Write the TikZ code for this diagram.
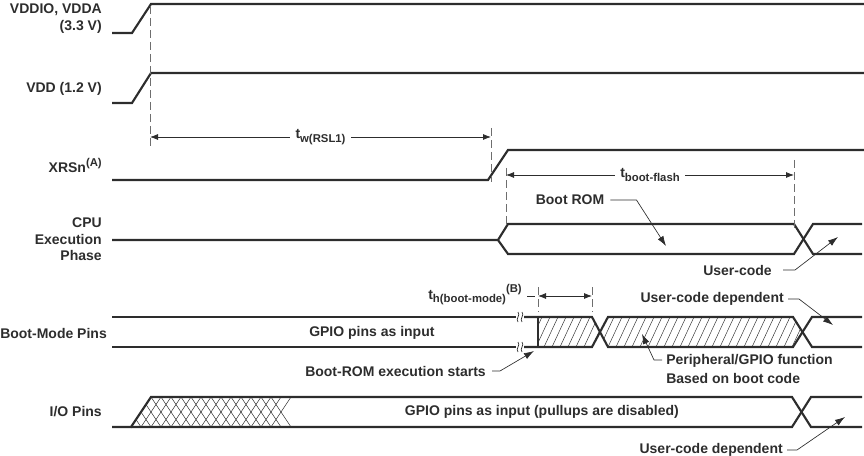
\documentclass[tikz,border=0pt]{standalone}
\usepackage{fontspec}
\setmainfont{Liberation Sans}
\usetikzlibrary{arrows.meta}

\definecolor{sigcol}{RGB}{45,45,45}
\definecolor{extcol}{RGB}{110,110,110}
\newcommand\tsub[1]{\raisebox{-0.45ex}{\fontsize{8.5}{9}\selectfont #1}}
\newcommand\tsup[1]{\raisebox{0.9ex}{\fontsize{8.5}{9}\selectfont #1}}

\begin{document}
\begin{tikzpicture}[x=0.75pt,y=0.75pt,yscale=-1,xscale=1,
	wave/.style={draw=sigcol, line width=1.6pt},
	hatchline/.style={draw=sigcol, line width=0.35pt},
	extline/.style={draw=extcol, line width=0.6pt, dash pattern=on 6pt off 3pt},
	dimline/.style={draw=sigcol, line width=0.6pt, {Latex[length=6pt,width=4.5pt]}-{Latex[length=6pt,width=4.5pt]}},
	leader/.style={draw=sigcol, line width=0.5pt, -{Latex[length=7.5pt,width=5pt]}},
	siglabel/.style={anchor=east, align=right, inner sep=0.75pt},
	every node/.append style={text=sigcol, font=\bfseries\fontsize{10.5}{12.5}\selectfont}]
	\useasboundingbox (0,0) rectangle (864,456);
	
	%Signal Lines: supplies and reset
	\draw [wave] (112,33) -- (132,33) -- (151,4) -- (864,4) ;
	\draw [wave] (112,103) -- (132,103) -- (151,73) -- (864,73) ;
	\draw [wave] (112,180) -- (488,180) -- (508,150) -- (864,150) ;
	%Signal Lines: CPU execution phase
	\draw [wave] (112,240) -- (498,240) -- (508,224) -- (794,224) -- (813,254) -- (862,254) ;
	\draw [wave] (498,240) -- (508,254) -- (794,254) -- (813,224) -- (862,224) ;
	
	%Shape: hatched boot-mode window
	\begin{scope}
		\clip (538,317) -- (592,317) -- (600,332) -- (592,347) -- (538,347) -- cycle
		      (600,332) -- (608,317) -- (793,317) -- (802.5,332) -- (793,347) -- (608,347) -- cycle ;
		\foreach \x in {520,528,...,808}
			\draw [hatchline] (\x,347) -- (\x+14,317) ;
	\end{scope}
	%Signal Lines: boot-mode pins
	\draw [wave] (112,317) -- (516,317) ;
	\draw [wave] (112,347) -- (516,347) ;
	\draw [wave] (524,317) -- (592,317) -- (608,347) -- (793,347) -- (812,317) -- (862,317) ;
	\draw [wave] (524,347) -- (592,347) -- (608,317) -- (793,317) -- (812,347) -- (862,347) ;
	\draw [wave] (538,317) -- (538,347) ;
	%Curve Lines: break marks
	\foreach \y in {317,347}
		\foreach \x in {518,522}
			\draw [hatchline,line width=0.5pt] (\x,\y+5) .. controls (\x-3,\y+2) and (\x+3,\y-2) .. (\x,\y-5) ;
	
	%Shape: cross-hatched I/O start
	\begin{scope}
		\clip (131,427) -- (151,397) -- (300,397) -- (300,427) -- cycle ;
		\foreach \x in {111,121,...,273} {
			\draw [hatchline] (\x,427) -- (\x+20,397) ;
			\draw [hatchline] (\x,397) -- (\x+20,427) ;
		}
	\end{scope}
	%Signal Lines: I/O pins
	\draw [wave] (112,427) -- (131,427) -- (151,397) -- (792,397) -- (811,427) -- (862,427) ;
	\draw [wave] (131,427) -- (792,427) -- (811,397) -- (862,397) ;
	
	%Dashed Lines
	\draw [extline] (150,6) -- (150,148) ;
	\draw [extline] (491,128) -- (491,182) ;
	\draw [extline] (506,168) -- (506,228) ;
	\draw [extline] (794,160) -- (794,228) ;
	\draw [extline] (538,287) -- (538,312) ;
	\draw [extline] (592,287) -- (592,312) ;
	
	%Dimension Lines
	\draw [dimline] (150,137) -- (491,137) node [midway, fill=white, inner xsep=4pt] (twrsl) {t\tsub{w(RSL1)}} ;
	\draw [dimline] (506,175) -- (794,175) node [midway, fill=white, inner xsep=4pt] (tboot) {t\tsub{boot-flash}} ;
	\draw [dimline] (538,296) -- (592,296) ;
	
	% Text Node
	\node [siglabel] (vddio) at (103,18.5) {VDDIO, VDDA\\(3.3 V)} ;
	\node [siglabel] (vdd) at (103,89) {VDD (1.2 V)} ;
	\node [siglabel, anchor=base east] (xrsn) at (103,173) {XRSn\tsup{(A)}} ;
	\node [siglabel] (cpu) at (103,239.5) {CPU\\Execution\\Phase} ;
	\node [siglabel, anchor=west, inner sep=0pt] (bootpins) at (0,333) {Boot-Mode Pins} ;
	\node [siglabel] (iopins) at (103,412) {I/O Pins} ;
	% Text Node
	\node [inner sep=0.75pt, anchor=west] (gpioin) at (308,333) {GPIO pins as input} ;
	\node [inner sep=0.75pt, anchor=east] (iogpio) at (680,412) {GPIO pins as input (pullups are disabled)} ;
	\node [inner sep=0.75pt] (bootrom) at (570,200) {Boot ROM} ;
	\node [inner sep=0.75pt, anchor=east] (usercode) at (773,270) {User-code} ;
	\node [inner sep=0.75pt, anchor=east] (thboot) at (523,295) {t\tsub{h(boot-mode)}\tsup{(B)}} ;
	\node [inner sep=0.75pt, anchor=east] (romstart) at (487,371) {Boot-ROM execution starts} ;
	\node [inner sep=0.75pt, anchor=east] (ucdep) at (785,299) {User-code dependent} ;
	\node [inner sep=0.75pt, anchor=west, align=left, font=\bfseries\fontsize{10.5}{14}\selectfont] (periph) at (665,369) {Peripheral/GPIO function\\Based on boot code} ;
	\node [inner sep=0.75pt, anchor=east] (ucdepio) at (784,450) {User-code dependent} ;
	
	%Leader Lines
	\coordinate (romtip) at (666,246) ;
	\coordinate (usertip) at (838,237) ;
	\coordinate (starttip) at (534,351) ;
	\coordinate (deptip) at (833,325) ;
	\coordinate (periphtip) at (642,334) ;
	\coordinate (iotip) at (845,417) ;
	\draw [leader] (bootrom.east) ++(5,0) -- ++(26,0) -- (romtip) ;
	\draw [leader] (usercode.east) ++(10,0) -- ++(12,0) -- (usertip) ;
	\draw [leader] (romstart.east) ++(5,0) -- ++(8,0) -- (starttip) ;
	\draw [leader] (ucdep.east) ++(3,0) -- ++(11,0) -- (deptip) ;
	\draw [leader] (periph.west) ++(-3,-9) -- ++(-8,0) -- (periphtip) ;
	\draw [leader] (ucdepio.east) ++(3,0) -- ++(10,0) -- (iotip) ;
	\draw [sigcol, line width=0.5pt] (thboot.east) ++(4,1) -- (535,296) ;
	
\end{tikzpicture}
\end{document}
